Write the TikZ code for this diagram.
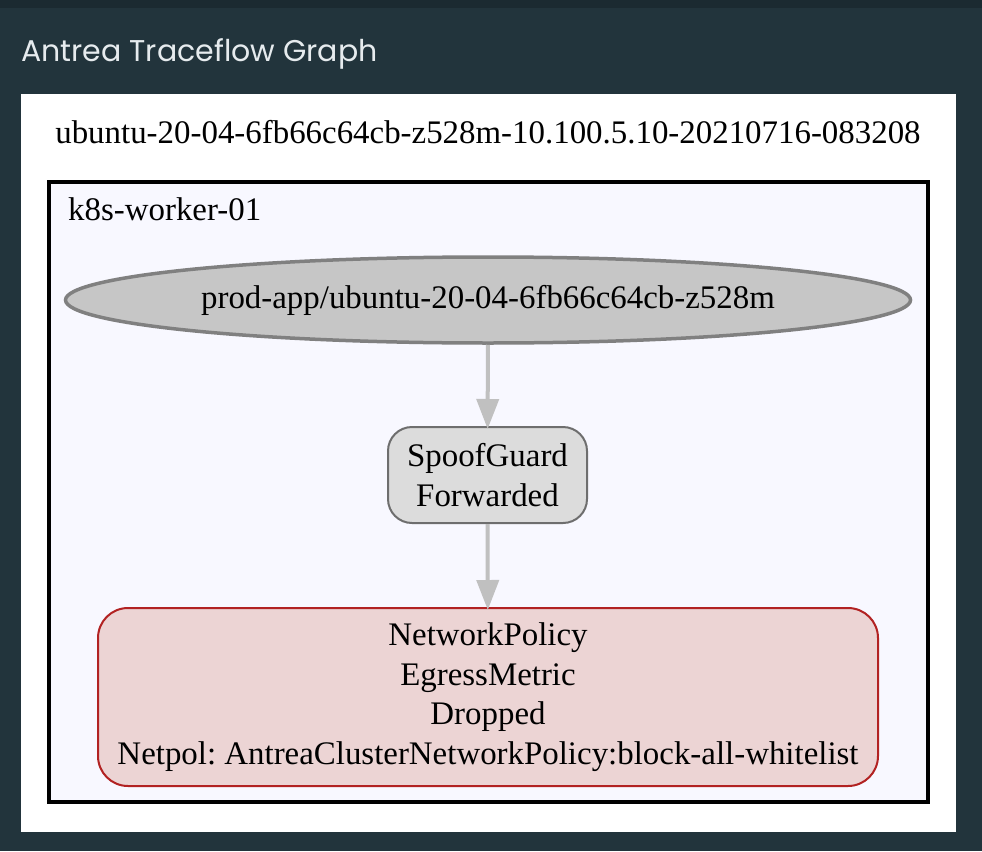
\documentclass[tikz,border=0pt]{standalone}
\usepackage{fontspec}
\setmainfont{Liberation Serif}
\newfontfamily\titlefont{Poppins}
\usetikzlibrary{shapes.geometric,arrows.meta}
\frenchspacing
\definecolor{pagebg}{HTML}{22343C}
\definecolor{topband}{HTML}{1B2A31}
\definecolor{titletext}{HTML}{E6EBEE}
\definecolor{clusterfill}{HTML}{F8F8FF}
\definecolor{podfill}{HTML}{C6C6C6}
\definecolor{podline}{HTML}{808080}
\definecolor{sgfill}{HTML}{DCDCDC}
\definecolor{sgline}{HTML}{6E6E6E}
\definecolor{npfill}{HTML}{ECD4D4}
\definecolor{npline}{HTML}{B22222}
\definecolor{edgecol}{HTML}{C0C0C0}
\tikzset{
  gvtext/.style={font=\fontsize{32.9}{39.5}\selectfont\frenchspacing, text=black, align=center, inner sep=0pt},
  podnode/.style={ellipse, draw=podline, fill=podfill, line width=3.5pt, minimum width=845pt, minimum height=86pt, inner sep=0pt, gvtext},
  sgnode/.style={rectangle, rounded corners=24pt, draw=sgline, fill=sgfill, line width=2pt, minimum width=199pt, minimum height=96pt, inner sep=0pt, gvtext},
  npnode/.style={rectangle, rounded corners=30pt, draw=npline, fill=npfill, line width=2pt, minimum width=780pt, minimum height=178pt, inner sep=0pt, gvtext},
  flow/.style={draw=edgecol, line width=4pt, -{Triangle[length=30pt,width=22pt]}, shorten >=-3pt}
}
\begin{document}
\begin{tikzpicture}[x=1pt,y=-1pt]
\useasboundingbox (0,0) rectangle (982,851);
\fill[pagebg] (0,0) rectangle (982,851);
\fill[topband] (0,0) rectangle (982,8);
\node[anchor=base west, inner sep=0pt, text=titletext, font=\titlefont\fontsize{30}{36}\selectfont] (title) at (21,62) {Antrea Traceflow Graph};
\fill[white] (21,94) rectangle (956,832);
\node[anchor=base, gvtext] (gtitle) at (488,143) {ubuntu-20-04-6fb66c64cb-z528m-10.100.5.10-20210716-083208};
\draw[fill=clusterfill, draw=black, line width=4pt] (49,182) rectangle (928,802);
\node[anchor=base west, gvtext] (ctitle) at (68,220) {k8s-worker-01};
\node[podnode] (pod) at (488,300) {prod-app/ubuntu-20-04-6fb66c64cb-z528m};
\node[sgnode] (sg) at (487.5,475) {SpoofGuard\\Forwarded};
\node[npnode] (np) at (488,697) {NetworkPolicy\\EgressMetric\\Dropped\\Netpol: AntreaClusterNetworkPolicy:block-all-whitelist};
\draw[flow] (pod) -- (sg);
\draw[flow] (sg) -- (np);
\end{tikzpicture}
\end{document}
